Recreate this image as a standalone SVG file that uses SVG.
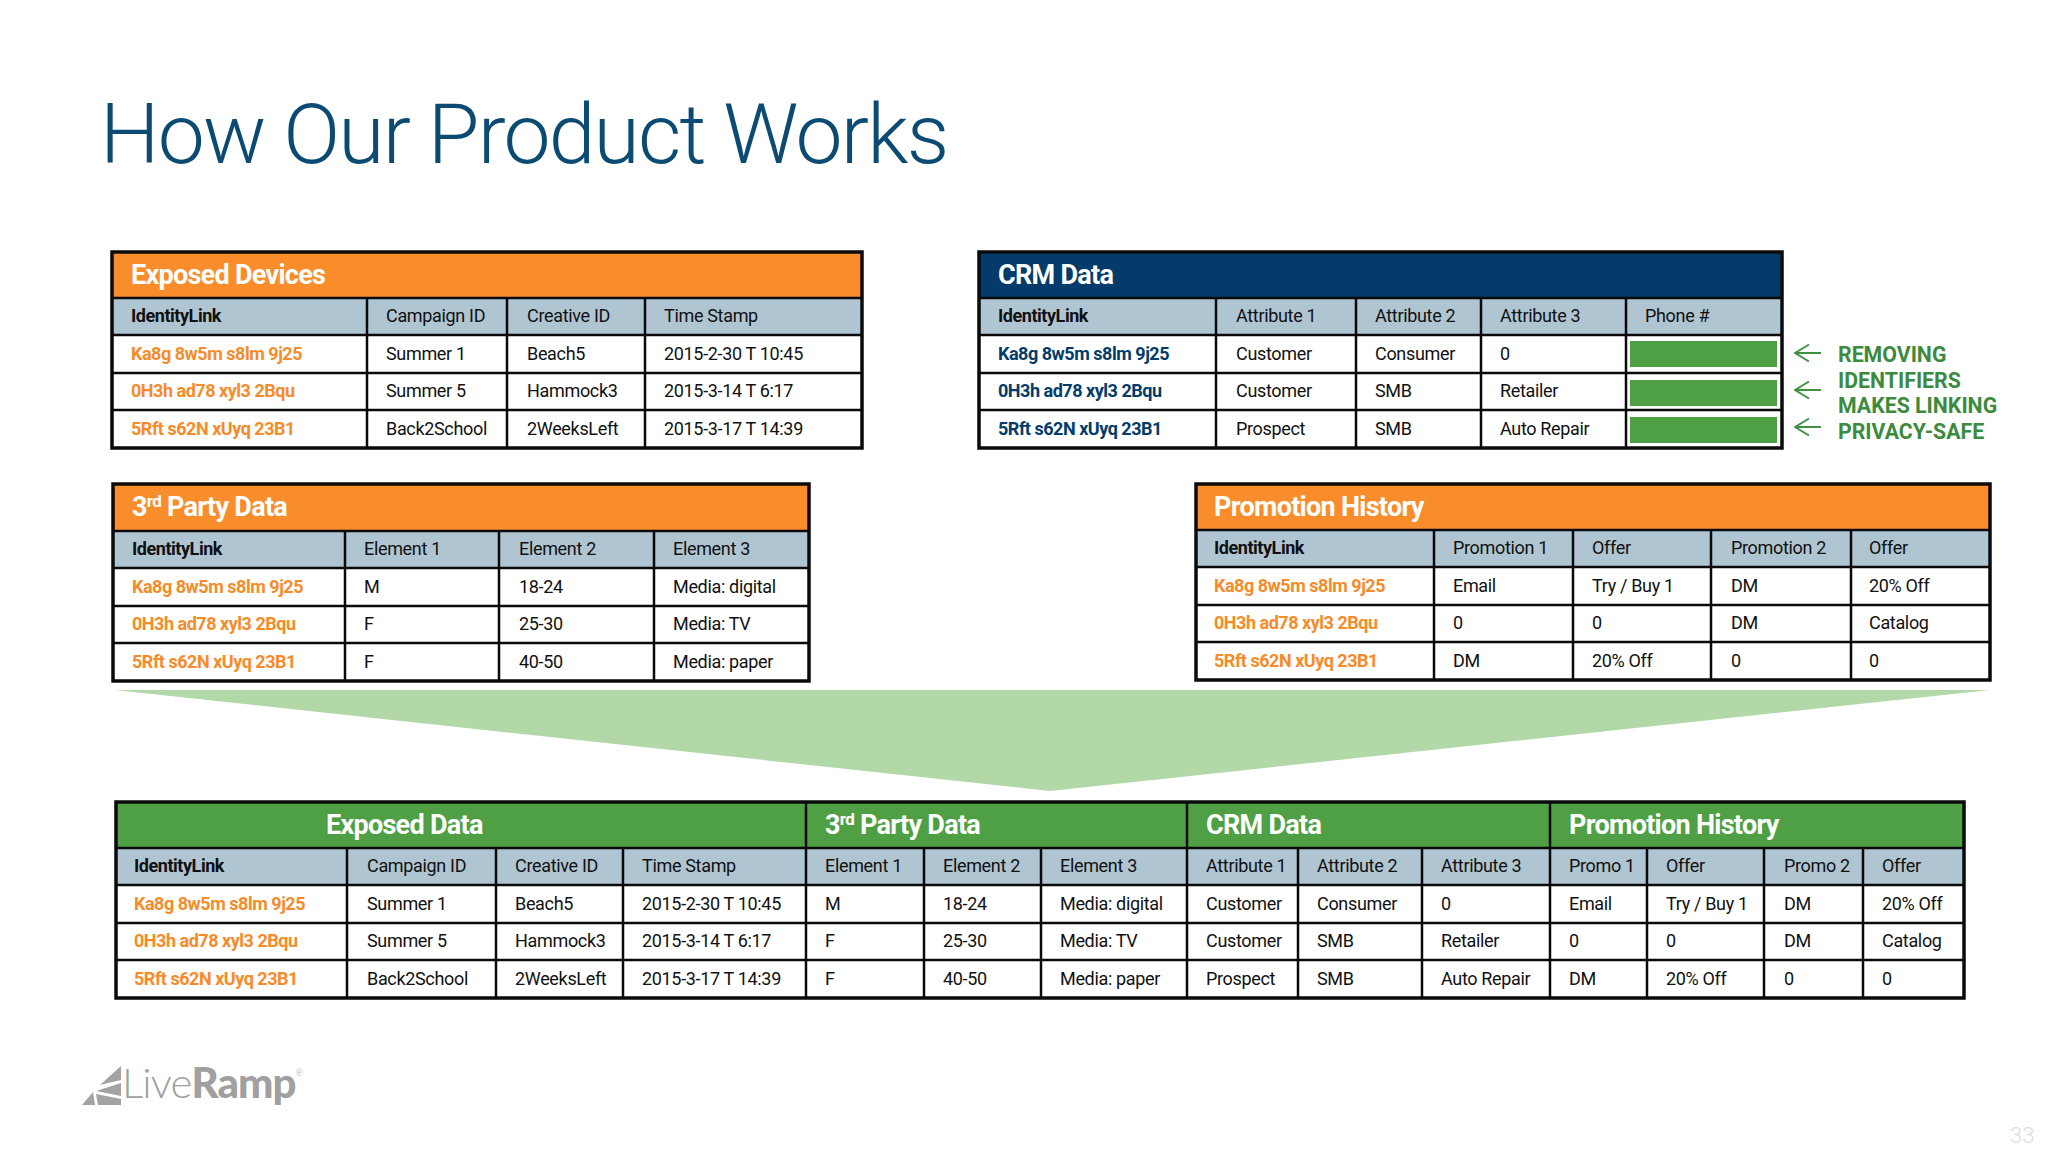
<svg xmlns="http://www.w3.org/2000/svg" width="2048" height="1152" viewBox="0 0 2048 1152">
<defs><marker id="ah" markerWidth="30" markerHeight="30" refX="1" refY="10" orient="0" markerUnits="userSpaceOnUse" viewBox="0 0 30 20"><path d="M15 1.500L1 10L15 18.500" fill="none" stroke="#3f9142" stroke-width="2"/></marker></defs>
<style>
text{font-family:Roboto,"Liberation Sans",sans-serif}
.t{font-size:18px;fill:#111;letter-spacing:-.33px}
.b{font-size:18px;font-weight:700;fill:#111;letter-spacing:-.45px}
.o{font-size:18px;font-weight:700;fill:#f68b2a;letter-spacing:-.48px}
.n{font-size:18px;font-weight:700;fill:#033c6a;letter-spacing:-.48px}
.h{font-size:27px;font-weight:700;fill:#fff;letter-spacing:-.72px}
.g{fill:none;stroke:#0a0a0a;stroke-width:2.500}
.f{fill:none;stroke:#0a0a0a;stroke-width:3.500}
.or{fill:#f98d2b}.hd{fill:#b0c5d2}.gr{fill:#4f9f45}
.note{font-size:21.300px;font-weight:700;fill:#3b8a3d}
</style>
<rect width="2048" height="1152" fill="#fff"/>
<text x="100" y="163" font-weight="300" fill="#0b4a72" style="font-size:84px;letter-spacing:-1.800px" id="title">How Our Product Works</text>
<g id="funnel"><polygon points="115,690 1990,690 1050,791" fill="#b3d8a8"/></g>

<g id="exposed-devices">
<rect x="112" y="252" width="750" height="46" class="or"/><rect x="112" y="298" width="750" height="37" class="hd"/>
<path class="g" d="M112 298H862M112 335H862M112 373H862M112 410H862M367 298V448M507 298V448M645 298V448"/><rect x="112" y="252" width="750" height="196" class="f"/>
<text class="h" x="131" y="284">Exposed Devices</text>
<text class="b" x="131" y="322">IdentityLink</text><text class="t" x="386" y="322">Campaign ID</text><text class="t" x="527" y="322">Creative ID</text><text class="t" x="664" y="322">Time Stamp</text>
<text class="o" x="131" y="360">Ka8g 8w5m s8lm 9j25</text><text class="t" x="386" y="360">Summer 1</text><text class="t" x="527" y="360">Beach5</text><text class="t" x="664" y="360">2015-2-30 T 10:45</text>
<text class="o" x="131" y="397">0H3h ad78 xyl3 2Bqu</text><text class="t" x="386" y="397">Summer 5</text><text class="t" x="527" y="397">Hammock3</text><text class="t" x="664" y="397">2015-3-14 T 6:17</text>
<text class="o" x="131" y="435">5Rft s62N xUyq 23B1</text><text class="t" x="386" y="435">Back2School</text><text class="t" x="527" y="435">2WeeksLeft</text><text class="t" x="664" y="435">2015-3-17 T 14:39</text>
</g>

<g id="crm-data">
<rect x="979" y="252" width="803" height="46" fill="#033c6a"/><rect x="979" y="298" width="803" height="37" class="hd"/>
<rect x="1630" y="341" width="147" height="26" class="gr"/><rect x="1630" y="380" width="147" height="26" class="gr"/><rect x="1630" y="417" width="147" height="26" class="gr"/>
<path class="g" d="M979 298H1782M979 335H1782M979 373H1782M979 410H1782M1216 298V448M1356 298V448M1481 298V448M1626 298V448"/><rect x="979" y="252" width="803" height="196" class="f"/>
<text class="h" x="998" y="284">CRM Data</text>
<text class="b" x="998" y="322">IdentityLink</text><text class="t" x="1236" y="322">Attribute 1</text><text class="t" x="1375" y="322">Attribute 2</text><text class="t" x="1500" y="322">Attribute 3</text><text class="t" x="1645" y="322">Phone #</text>
<text class="n" x="998" y="360">Ka8g 8w5m s8lm 9j25</text><text class="t" x="1236" y="360">Customer</text><text class="t" x="1375" y="360">Consumer</text><text class="t" x="1500" y="360">0</text>
<text class="n" x="998" y="397">0H3h ad78 xyl3 2Bqu</text><text class="t" x="1236" y="397">Customer</text><text class="t" x="1375" y="397">SMB</text><text class="t" x="1500" y="397">Retailer</text>
<text class="n" x="998" y="435">5Rft s62N xUyq 23B1</text><text class="t" x="1236" y="435">Prospect</text><text class="t" x="1375" y="435">SMB</text><text class="t" x="1500" y="435">Auto Repair</text>
</g>

<g id="connectors">
<path d="M1821 353H1795" stroke="#3f9142" stroke-width="2" fill="none" marker-end="url(#ah)"/>
<path d="M1821 390H1795" stroke="#3f9142" stroke-width="2" fill="none" marker-end="url(#ah)"/>
<path d="M1821 427H1795" stroke="#3f9142" stroke-width="2" fill="none" marker-end="url(#ah)"/>
</g>
<g id="note"><text class="note" x="1838" y="362">REMOVING</text><text class="note" x="1838" y="388">IDENTIFIERS</text><text class="note" x="1838" y="413">MAKES LINKING</text><text class="note" x="1838" y="439">PRIVACY-SAFE</text></g>

<g id="third-party-data">
<rect x="113" y="484" width="696" height="47" class="or"/><rect x="113" y="531" width="696" height="37" class="hd"/>
<path class="g" d="M113 531H809M113 568H809M113 606H809M113 643H809M345 531V681M499 531V681M654 531V681"/><rect x="113" y="484" width="696" height="197" class="f"/>
<text class="h" x="132" y="516">3<tspan font-size="17" dy="-9">rd</tspan><tspan dy="9"> Party Data</tspan></text>
<text class="b" x="132" y="555">IdentityLink</text><text class="t" x="364" y="555">Element 1</text><text class="t" x="519" y="555">Element 2</text><text class="t" x="673" y="555">Element 3</text>
<text class="o" x="132" y="593">Ka8g 8w5m s8lm 9j25</text><text class="t" x="364" y="593">M</text><text class="t" x="519" y="593">18-24</text><text class="t" x="673" y="593">Media: digital</text>
<text class="o" x="132" y="630">0H3h ad78 xyl3 2Bqu</text><text class="t" x="364" y="630">F</text><text class="t" x="519" y="630">25-30</text><text class="t" x="673" y="630">Media: TV</text>
<text class="o" x="132" y="668">5Rft s62N xUyq 23B1</text><text class="t" x="364" y="668">F</text><text class="t" x="519" y="668">40-50</text><text class="t" x="673" y="668">Media: paper</text>
</g>

<g id="promotion-history">
<rect x="1196" y="484" width="794" height="46" class="or"/><rect x="1196" y="530" width="794" height="37" class="hd"/>
<path class="g" d="M1196 530H1990M1196 567H1990M1196 605H1990M1196 642H1990M1434 530V680M1573 530V680M1711 530V680M1851 530V680"/><rect x="1196" y="484" width="794" height="196" class="f"/>
<text class="h" x="1214" y="516">Promotion History</text>
<text class="b" x="1214" y="554">IdentityLink</text><text class="t" x="1453" y="554">Promotion 1</text><text class="t" x="1592" y="554">Offer</text><text class="t" x="1731" y="554">Promotion 2</text><text class="t" x="1869" y="554">Offer</text>
<text class="o" x="1214" y="592">Ka8g 8w5m s8lm 9j25</text><text class="t" x="1453" y="592">Email</text><text class="t" x="1592" y="592">Try / Buy 1</text><text class="t" x="1731" y="592">DM</text><text class="t" x="1869" y="592">20% Off</text>
<text class="o" x="1214" y="629">0H3h ad78 xyl3 2Bqu</text><text class="t" x="1453" y="629">0</text><text class="t" x="1592" y="629">0</text><text class="t" x="1731" y="629">DM</text><text class="t" x="1869" y="629">Catalog</text>
<text class="o" x="1214" y="667">5Rft s62N xUyq 23B1</text><text class="t" x="1453" y="667">DM</text><text class="t" x="1592" y="667">20% Off</text><text class="t" x="1731" y="667">0</text><text class="t" x="1869" y="667">0</text>
</g>

<g id="combined-data">
<rect x="116" y="802" width="1848" height="46" class="gr"/><rect x="116" y="848" width="1848" height="37" class="hd"/>
<path class="g" d="M116 848H1964M116 885H1964M116 923H1964M116 960H1964M806 802V998M1187 802V998M1550 802V998M347 848V998M496 848V998M623 848V998M924 848V998M1041 848V998M1298 848V998M1422 848V998M1647 848V998M1764 848V998M1863 848V998"/><rect x="116" y="802" width="1848" height="196" class="f"/>
<text class="h" x="326" y="834">Exposed Data</text><text class="h" x="825" y="834">3<tspan font-size="17" dy="-9">rd</tspan><tspan dy="9"> Party Data</tspan></text><text class="h" x="1206" y="834">CRM Data</text><text class="h" x="1569" y="834">Promotion History</text>
<text class="b" x="134" y="872">IdentityLink</text><text class="t" x="367" y="872">Campaign ID</text><text class="t" x="515" y="872">Creative ID</text><text class="t" x="642" y="872">Time Stamp</text><text class="t" x="825" y="872">Element 1</text><text class="t" x="943" y="872">Element 2</text><text class="t" x="1060" y="872">Element 3</text><text class="t" x="1206" y="872">Attribute 1</text><text class="t" x="1317" y="872">Attribute 2</text><text class="t" x="1441" y="872">Attribute 3</text><text class="t" x="1569" y="872">Promo 1</text><text class="t" x="1666" y="872">Offer</text><text class="t" x="1784" y="872">Promo 2</text><text class="t" x="1882" y="872">Offer</text>
<text class="o" x="134" y="910">Ka8g 8w5m s8lm 9j25</text><text class="t" x="367" y="910">Summer 1</text><text class="t" x="515" y="910">Beach5</text><text class="t" x="642" y="910">2015-2-30 T 10:45</text><text class="t" x="825" y="910">M</text><text class="t" x="943" y="910">18-24</text><text class="t" x="1060" y="910">Media: digital</text><text class="t" x="1206" y="910">Customer</text><text class="t" x="1317" y="910">Consumer</text><text class="t" x="1441" y="910">0</text><text class="t" x="1569" y="910">Email</text><text class="t" x="1666" y="910">Try / Buy 1</text><text class="t" x="1784" y="910">DM</text><text class="t" x="1882" y="910">20% Off</text>
<text class="o" x="134" y="947">0H3h ad78 xyl3 2Bqu</text><text class="t" x="367" y="947">Summer 5</text><text class="t" x="515" y="947">Hammock3</text><text class="t" x="642" y="947">2015-3-14 T 6:17</text><text class="t" x="825" y="947">F</text><text class="t" x="943" y="947">25-30</text><text class="t" x="1060" y="947">Media: TV</text><text class="t" x="1206" y="947">Customer</text><text class="t" x="1317" y="947">SMB</text><text class="t" x="1441" y="947">Retailer</text><text class="t" x="1569" y="947">0</text><text class="t" x="1666" y="947">0</text><text class="t" x="1784" y="947">DM</text><text class="t" x="1882" y="947">Catalog</text>
<text class="o" x="134" y="985">5Rft s62N xUyq 23B1</text><text class="t" x="367" y="985">Back2School</text><text class="t" x="515" y="985">2WeeksLeft</text><text class="t" x="642" y="985">2015-3-17 T 14:39</text><text class="t" x="825" y="985">F</text><text class="t" x="943" y="985">40-50</text><text class="t" x="1060" y="985">Media: paper</text><text class="t" x="1206" y="985">Prospect</text><text class="t" x="1317" y="985">SMB</text><text class="t" x="1441" y="985">Auto Repair</text><text class="t" x="1569" y="985">DM</text><text class="t" x="1666" y="985">20% Off</text><text class="t" x="1784" y="985">0</text><text class="t" x="1882" y="985">0</text>
</g>

<g id="logo">
<polygon points="82,1105 93,1092 95,1105" fill="#a3a3a3"/><polygon points="96,1094 121,1099 121,1105 98,1105" fill="#a3a3a3"/><polygon points="96,1091 121,1083 121,1096" fill="#a3a3a3"/><polygon points="100,1085 121,1066 121,1080" fill="#a3a3a3"/>
<text x="122" y="1098" style="font-family:Lato,'Open Sans',sans-serif;font-size:42px;font-weight:300;fill:#a0a0a0;letter-spacing:-.9px">Live<tspan style="font-weight:900">Ramp</tspan><tspan style="font-size:9px" dy="-22">®</tspan></text>
</g>
<text id="page" x="2010" y="1143" style="font-size:22px;font-weight:300;fill:#dcdcdc">33</text>
</svg>
